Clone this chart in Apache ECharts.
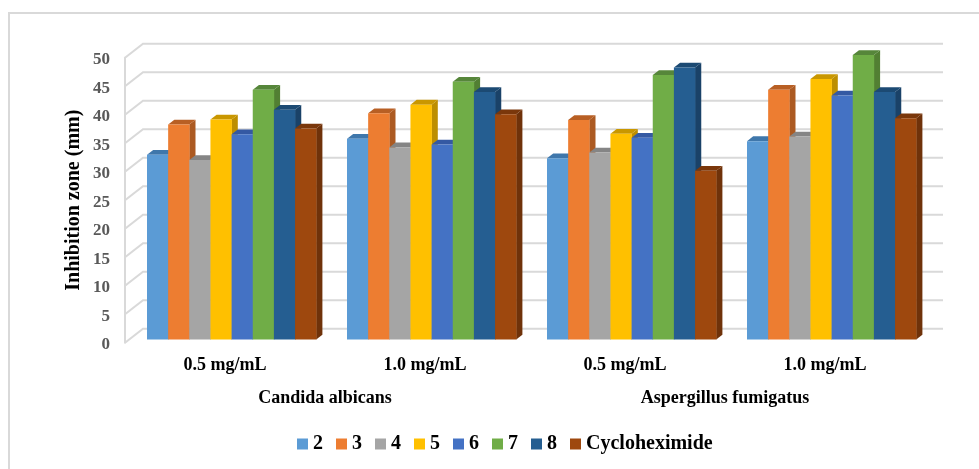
<!DOCTYPE html>
<html>
<head>
<meta charset="utf-8">
<style>html,body{margin:0;padding:0;background:#fff}#chart{width:979px;height:469px}</style>
<script src="https://cdn.jsdelivr.net/npm/echarts@6/dist/echarts.min.js"></script>
</head>
<body>
<div id="chart"></div>
<script>
// Inhibition zone (mm) per compound, in order: C. albicans 0.5, 1.0; A. fumigatus 0.5, 1.0
const doses = ['0.5 mg/mL', '1.0 mg/mL', '0.5 mg/mL', '1.0 mg/mL'];
const organisms = ['Candida albicans', 'Aspergillus fumigatus'];
const yTicks = [0, 5, 10, 15, 20, 25, 30, 35, 40, 45, 50];
const compound2 = [32.4, 35.2, 31.8, 34.8];
const compound3 = [37.7, 39.7, 38.5, 43.8];
const compound4 = [31.5, 33.7, 32.8, 35.6];
const compound5 = [38.6, 41.2, 36.1, 45.7];
const compound6 = [36.0, 34.2, 35.4, 42.8];
const compound7 = [43.8, 45.2, 46.4, 49.9];
const compound8 = [40.3, 43.4, 47.7, 43.4];
const cycloheximide = [37.0, 39.5, 29.6, 38.8];

const seriesNames = ['2', '3', '4', '5', '6', '7', '8', 'Cycloheximide'];
const seriesValues = [compound2, compound3, compound4, compound5, compound6, compound7, compound8, cycloheximide];
const colors = ['#5B9BD5', '#ED7D31', '#A5A5A5', '#FFC000', '#4472C4', '#70AD47', '#255E91', '#9E480E'];
const sideColors = ['#44749F', '#AC5A22', '#7B7B7B', '#BD8E00', '#2F5597', '#527F33', '#1A4268', '#6F320A'];
const topColors = ['#3F77AB', '#B85F24', '#858585', '#C99700', '#3459A3', '#56863A', '#1C4A73', '#7A370B'];

// Pseudo-3D projection of the plot box, in pixels
const WALL_DX = 18, WALL_DY = -14;      // front edge of the box to its back wall
const PLANE_DY = -3.2;                  // front edge of the box to the bars' front faces
const BAR_DX = 6.2, BAR_DY = -4.8;      // depth of each bar
const BAR_WIDTH = 21.15;
const GROUP_OFFSET = -78;               // left edge of first bar relative to category centre

function renderWall(params, api) {
  const tick = api.value(1);
  const cs = params.coordSys;
  const y = api.coord([0, tick])[1];
  const x0 = cs.x;
  return {
    type: 'polyline',
    silent: true,
    shape: { points: [[x0, y], [x0 + WALL_DX, y + WALL_DY], [x0 + cs.width + WALL_DX, y + WALL_DY]] },
    style: { stroke: '#D9D9D9', lineWidth: 2, fill: null }
  };
}

function makeBarRenderer(index) {
  return function (params, api) {
    const center = api.coord([api.value(0), 0]);
    const top = api.coord([api.value(0), api.value(1)]);
    const x = center[0] + GROUP_OFFSET + index * BAR_WIDTH;
    const base = center[1] + PLANE_DY;
    const y = top[1] + PLANE_DY;
    const w = BAR_WIDTH;
    return {
      type: 'group',
      children: [
        { type: 'polygon', shape: { points: [[x + w, y], [x + w + BAR_DX, y + BAR_DY], [x + w + BAR_DX, base + BAR_DY], [x + w, base]] },
          style: { fill: sideColors[index] } },
        { type: 'polygon', shape: { points: [[x, y], [x + BAR_DX, y + BAR_DY], [x + w + BAR_DX, y + BAR_DY], [x + w, y]] },
          style: { fill: topColors[index] } },
        { type: 'rect', shape: { x: x, y: y, width: w + 0.3, height: base - y },
          style: { fill: colors[index] } }
      ]
    };
  };
}

const FONT = '"Liberation Serif", "Times New Roman", serif';
const barSeries = seriesNames.map((name, i) => ({
  name: name,
  type: 'custom',
  renderItem: makeBarRenderer(i),
  itemStyle: { color: colors[i] },
  encode: { x: 0, y: 1 },
  clip: false,
  z: 3 + i,
  data: seriesValues[i].map((v, c) => [c, v])
}));

const chart = echarts.init(document.getElementById('chart'), null, { renderer: 'canvas' });
chart.setOption({
  animation: false,
  backgroundColor: '#fff',
  graphic: [{
    type: 'polyline',
    silent: true,
    shape: { points: [[9, 469], [9, 13], [979, 13]] },
    style: { stroke: '#D9D9D9', lineWidth: 2, fill: null }
  }],
  grid: { left: 125, top: 57.7, width: 800, height: 285 },
  legend: {
    data: seriesNames,
    left: 292,
    top: 429,
    icon: 'rect',
    itemWidth: 11,
    itemHeight: 11,
    itemGap: 13,
    textStyle: { fontFamily: FONT, fontWeight: 'bold', fontSize: 20, color: '#000' }
  },
  xAxis: [
    {
      type: 'category',
      data: doses,
      axisLine: { show: false },
      axisTick: { show: false },
      axisLabel: { margin: 14, interval: 0, fontFamily: FONT, fontWeight: 'bold', fontSize: 18, color: '#000' }
    },
    {
      type: 'category',
      position: 'bottom',
      data: organisms,
      offset: 33,
      axisLine: { show: false },
      axisTick: { show: false },
      axisLabel: { margin: 14, interval: 0, fontFamily: FONT, fontWeight: 'bold', fontSize: 18, color: '#000' }
    }
  ],
  yAxis: {
    type: 'value',
    min: 0,
    max: 50,
    interval: 5,
    name: 'Inhibition zone (mm)',
    nameLocation: 'middle',
    nameGap: 41,
    nameMoveOverlap: false,
    nameTextStyle: { fontFamily: FONT, fontWeight: 'bold', fontSize: 20, color: '#000' },
    axisLine: { show: true, lineStyle: { color: '#D9D9D9', width: 2 } },
    axisTick: { show: false },
    splitLine: { show: false },
    axisLabel: {
      margin: 15,
      formatter: '{tick|{value}}',
      rich: { tick: { padding: [4, 0, 0, 0], fontFamily: FONT, fontWeight: 'bold', fontSize: 17, color: '#595959' } }
    }
  },
  series: [{
    type: 'custom',
    name: 'walls',
    renderItem: renderWall,
    encode: { x: 0, y: 1 },
    clip: false,
    silent: true,
    z: 1,
    data: yTicks.map(t => [0, t])
  }].concat(barSeries)
});
</script>
</body>
</html>
